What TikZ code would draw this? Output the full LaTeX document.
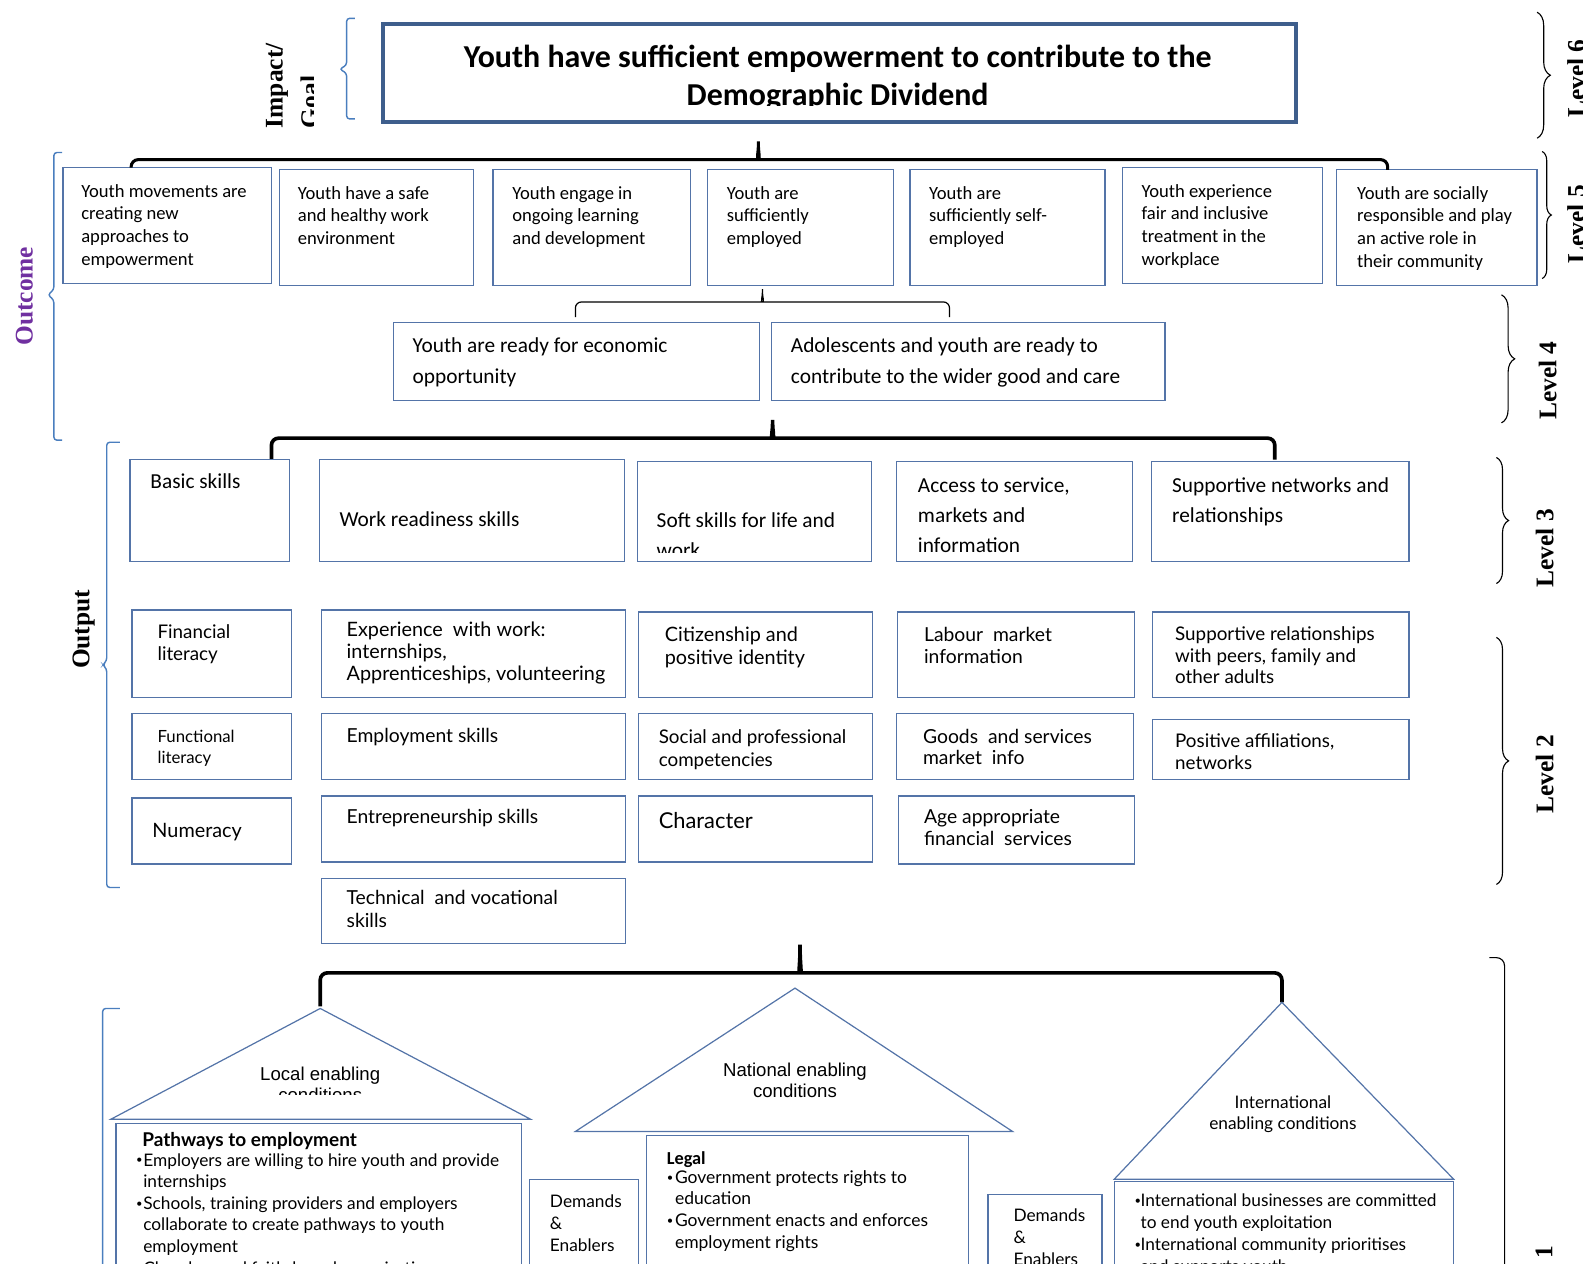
\documentclass[tikz,border=0pt]{standalone}
\usepackage{fontspec}
\setmainfont{Carlito}
\newfontfamily\gill{Lato}
\newfontfamily\arialf{Liberation Sans}
\newfontfamily\timesf{Liberation Serif}
\usetikzlibrary{decorations.pathreplacing}
\definecolor{boxblue}{RGB}{84,116,168}
\definecolor{impblue}{RGB}{62,94,140}
\definecolor{brblue}{RGB}{74,126,190}
\definecolor{outpurple}{RGB}{112,48,160}
\newcommand{\tl}[1]{\begin{tabular}[t]{@{}l@{}}#1\end{tabular}}
\newcommand{\tc}[1]{\begin{tabular}[t]{@{}c@{}}#1\end{tabular}}
\newcommand{\bxn}[5]{\node[bx, minimum width={(#4)-(#2)}, minimum height={(#5)-(#3)}] (#1) at (#2,#3) {};}
\newcommand{\fs}[2]{\fontsize{#1}{#2}\selectfont}
\newcommand{\bul}[1]{\makebox[#1][l]{\raisebox{0.12em}{\fontsize{11}{11}\selectfont\textbullet}}}
\begin{document}
\begin{tikzpicture}[x=1pt,y=-1pt,
  bx/.style={draw=boxblue, line width=1.3pt, anchor=north west, inner sep=0pt, outer sep=0pt},
  tx/.style={anchor=base west, inner sep=0pt, outer sep=0pt},
  txc/.style={anchor=base, inner sep=0pt, outer sep=0pt},
  f5/.style={font=\fs{18.3}{22.3}},
  f4/.style={font=\fs{21}{30}},
  f3/.style={font=\fs{21}{29.5}},
  lvl/.style={rotate=90, anchor=base west, inner sep=0pt, outer sep=0pt, font=\timesf\bfseries\fs{25}{30}},
  thk/.style={draw=black, line width=3.6pt, rounded corners=7pt},
  thn/.style={draw=black, line width=1.2pt, rounded corners=6pt},
  bbr/.style={draw=brblue, line width=1.4pt, rounded corners=3pt},
  kbr/.style={draw=black, line width=1.1pt, decorate, decoration={brace, amplitude=#1}},
  roof/.style={draw=boxblue, line width=1.2pt},
]
\path[use as bounding box] (0,0) rectangle (1568,1243);
\clip (0,0) rectangle (1568,1243);

% ---------- Impact ----------
\node[draw=impblue, line width=4pt, anchor=north west, inner sep=0pt, minimum width=898pt, minimum height=96pt] (imp) at (375,22) {};
\begin{scope}
\clip (380,26) rectangle (1268,104);
\node[txc, font=\bfseries\fs{31.4}{37.5}] (impt) at (824,66) {\tc{Youth have sufficient empowerment to contribute to the\\Demographic Dividend}};
\end{scope}
\begin{scope}
\clip (240,20) rectangle (308,140);
\node[lvl] (impl1) at (278,126) {Impact/};
\node[lvl] (impl2) at (313,126) {Goal};
\end{scope}
\draw[bbr] (349,18) -- (341,18) -- (341,64) -- (334,68) -- (341,72) -- (341,117) -- (349,117);

% ---------- Level 5 ----------
\bxn{o1}{62}{165}{267}{279}
\node[tx,f5] (o1t) at (80,194) {\tl{Youth movements are\\creating new\\approaches to\\empowerment}};
\bxn{o2}{275}{167}{466}{281}
\node[tx,f5] (o2t) at (293,196) {\tl{Youth have a safe\\and healthy work\\environment}};
\bxn{o3}{485}{167}{679}{281}
\node[tx,f5] (o3t) at (504,196) {\tl{Youth engage in\\ongoing learning\\and development}};
\bxn{o4}{696}{167}{879}{281}
\node[tx,f5] (o4t) at (715,196) {\tl{Youth are\\sufficiently\\employed}};
\bxn{o5}{895}{167}{1087}{281}
\node[tx,f5] (o5t) at (914,196) {\tl{Youth are\\sufficiently self-\\employed}};
\bxn{o6}{1104}{165}{1301}{279}
\node[tx,f5] (o6t) at (1123,194) {\tl{Youth experience\\fair and inclusive\\treatment in the\\workplace}};
\bxn{o7}{1315}{167}{1512}{281}
\node[tx,f5] (o7t) at (1335,196) {\tl{Youth are socially\\responsible and play\\an active role in\\their community}};

\coordinate (c5l) at (129,165);
\coordinate (c5t) at (746,135);
\coordinate (c5r) at (1365,167);
\draw[thk, line width=3pt] (c5l) -- (129,157) -- (739,157) .. controls (744,157) and (746,150) .. (c5t) .. controls (746,150) and (748,157) .. (753,157) -- (1365,157) -- (c5r);

% ---------- Level 4 ----------
\bxn{r1}{387}{317}{747}{394}
\node[tx,f4] (r1t) at (406,347) {\tl{Youth are ready for economic\\opportunity}};
\bxn{r2}{759}{317}{1146}{394}
\node[tx,f4] (r2t) at (778,347) {\tl{Adolescents and youth are ready to\\contribute to the wider good and care}};
\coordinate (c4l) at (566,312);
\coordinate (c4t) at (750,281);
\coordinate (c4r) at (934,312);
\draw[thn] (c4l) -- (566,297) -- (744,297) .. controls (748,297) and (750,292) .. (c4t) .. controls (750,292) and (752,297) .. (756,297) -- (934,297) -- (c4r);

% ---------- Outcome label ----------
\node[lvl, text=outpurple] (outc) at (32,340) {Outcome};
\draw[bbr] (61,150) -- (53,150) -- (53,285) -- (47,290) -- (53,295) -- (53,433) -- (61,433);

% ---------- Level 3 ----------
\coordinate (c3l) at (267,452);
\coordinate (c3t) at (760,409);
\coordinate (c3r) at (1254,452);
\draw[thk] (c3l) -- (267,431) -- (753,431) .. controls (758,431) and (760,424) .. (c3t) .. controls (760,424) and (762,431) .. (767,431) -- (1254,431) -- (c3r);
\bxn{s1}{128}{452}{285}{552}
\node[tx,f3] (s1t) at (148,481) {Basic skills};
\bxn{s2}{314}{452}{614}{552}
\node[tx,f3] (s2t) at (334,518) {Work readiness skills};
\bxn{s3}{627}{454}{857}{552}
\begin{scope}
\clip (629,456) rectangle (855,543);
\node[tx,f3] (s3t) at (646,519) {\tl{Soft skills for life and\\work}};
\end{scope}
\bxn{s4}{882}{454}{1114}{552}
\node[tx,f3] (s4t) at (903,484) {\tl{Access to service,\\markets and\\information}};
\bxn{s5}{1133}{454}{1386}{552}
\node[tx,f3] (s5t) at (1153,484) {\tl{Supportive networks and\\relationships}};

% ---------- Output label ----------
\node[lvl] (outp) at (88,658) {Output};
\draw[bbr] (118,435) -- (105,435) -- (105,650) -- (101,654) -- (105,658) -- (105,873) -- (118,873);

% ---------- Level 2 ----------
\bxn{p1a}{130}{600}{287}{686}
\node[tx, font=\gill\fs{18.5}{21.5}] (p1at) at (155,628) {\tl{Financial\\literacy}};
\bxn{p1b}{130}{702}{287}{767}
\node[tx, font=\gill\fs{16.5}{21.5}] (p1bt) at (155,730) {\tl{Functional\\literacy}};
\bxn{p1c}{130}{785}{287}{850}
\node[tx, font=\gill\fs{19.5}{22}] (p1ct) at (150,824) {Numeracy};
\bxn{p2a}{316}{600}{615}{686}
\node[tx, font=\gill\fs{19.5}{21.7}] (p2at) at (341,626) {\tl{Experience~ with work:\\internships,\\Apprenticeships, volunteering}};
\bxn{p2b}{316}{702}{615}{767}
\node[tx, font=\gill\fs{19}{22}] (p2bt) at (341,730) {Employment skills};
\bxn{p2c}{316}{783}{615}{848}
\node[tx, font=\gill\fs{19}{22}] (p2ct) at (341,810) {Entrepreneurship skills};
\bxn{p2d}{316}{864}{615}{928}
\node[tx, font=\gill\fs{19}{22}] (p2dt) at (341,890) {\tl{Technical~ and vocational\\skills}};
\bxn{p3a}{628}{602}{858}{686}
\node[tx, font=\gill\fs{19.5}{23}] (p3at) at (654,631) {\tl{Citizenship and\\positive identity}};
\bxn{p3b}{628}{702}{858}{767}
\node[tx, font=\gill\fs{18.5}{23}] (p3bt) at (648,731) {\tl{Social and professional\\competencies}};
\bxn{p3c}{628}{783}{858}{848}
\node[tx, font=\gill\fs{21.5}{23}] (p3ct) at (648,815) {Character};
\bxn{p4a}{883}{602}{1116}{686}
\node[tx, font=\gill\fs{19}{21.5}] (p4at) at (909,631) {\tl{Labour~ market\\information}};
\bxn{p4b}{882}{702}{1115}{767}
\node[tx, font=\gill\fs{19}{21.5}] (p4bt) at (908,731) {\tl{Goods~ and services\\market~ info}};
\bxn{p4c}{884}{783}{1116}{850}
\node[tx, font=\gill\fs{19}{22}] (p4ct) at (909,810) {\tl{Age appropriate\\financial~ services}};
\bxn{p5a}{1134}{602}{1386}{686}
\node[tx, font=\gill\fs{18.5}{21.3}] (p5at) at (1156,630) {\tl{Supportive relationships\\with peers, family and\\other adults}};
\bxn{p5b}{1134}{708}{1386}{767}
\node[tx, font=\gill\fs{18.5}{22}] (p5bt) at (1156,735) {\tl{Positive affiliations,\\networks}};

% ---------- Level 1 ----------
\coordinate (c1l) at (315,990);
\coordinate (c1t) at (787,925);
\coordinate (c1r) at (1261,986);
\draw[thk] (c1l) -- (315,957) -- (780,957) .. controls (785,957) and (787,950) .. (c1t) .. controls (787,950) and (789,957) .. (794,957) -- (1261,957) -- (c1r);

\coordinate (rlA) at (315,992);
\coordinate (rlB) at (109,1101);
\coordinate (rlC) at (522,1101);
\draw[roof] (rlA) -- (rlB) -- (rlC) -- cycle;
\begin{scope}
\clip (200,1000) rectangle (430,1077);
\node[txc, font=\arialf\fs{18.3}{21}] (rlt) at (315,1063) {\tc{Local enabling\\conditions}};
\end{scope}
\bxn{pw}{114}{1105}{513}{1300}
\node[tx, font=\gill\bfseries\fs{18.7}{21}] (pwh) at (140,1128) {Pathways to employment};
\node[tx, font=\gill\fs{17}{21.3}] (pwt) at (134,1147) {\tl{\bul{7pt}Employers are willing to hire youth and provide\\\hspace*{7pt}internships\\\bul{7pt}Schools, training providers and employers\\\hspace*{7pt}collaborate to create pathways to youth\\\hspace*{7pt}employment\\\bul{7pt}Churches and faith-based organisations}};

\bxn{de1}{521}{1160}{628}{1300}
\node[tx, font=\gill\fs{17}{21.3}] (de1t) at (541,1188) {\tl{Demands\\\&\\Enablers}};

\coordinate (rnA) at (782,972);
\coordinate (rnB) at (566,1113);
\coordinate (rnC) at (996,1113);
\draw[roof] (rnA) -- (rnB) -- (rnC) -- cycle;
\node[txc, font=\arialf\fs{18.3}{21}] (rnt) at (782,1059) {\tc{National enabling\\conditions}};
\bxn{lg}{636}{1117}{953}{1300}
\node[tx, font=\bfseries\fs{18}{21}] (lgh) at (656,1145) {Legal};
\node[tx, font=\gill\fs{17.2}{21.3}] (lgt) at (656,1164) {\tl{\bul{8pt}Government protects rights to\\\hspace*{8pt}education\\\bul{8pt}Government enacts and enforces\\\hspace*{8pt}employment rights}};

\bxn{de2}{972}{1175}{1084}{1300}
\node[tx, font=\gill\fs{17}{21.3}] (de2t) at (997,1202) {\tl{Demands\\\&\\Enablers}};

\coordinate (riA) at (1261,986);
\coordinate (riB) at (1096,1160);
\coordinate (riC) at (1430,1160);
\draw[roof] (riA) -- (riB) -- (riC) -- cycle;
\node[txc, font=\gill\fs{17}{21}] (rit) at (1262,1090) {\tc{International\\enabling conditions}};
\bxn{in}{1096}{1162}{1430}{1300}
\node[tx, font=\gill\fs{17}{21.5}] (int) at (1116,1187) {\tl{\bul{6pt}International businesses are committed\\\hspace*{6pt}to end youth exploitation\\\bul{6pt}International community prioritises\\\hspace*{6pt}and supports youth}};

\draw[bbr] (118,992) -- (101,992) -- (101,1300);

% ---------- Right level braces ----------
\draw[kbr=13pt] (1512,12) -- (1512,136);
\draw[kbr=9pt] (1517,149) -- (1517,274);
\draw[kbr=13pt] (1477,290) -- (1477,416);
\draw[kbr=12pt] (1472,450) -- (1472,574);
\draw[kbr=12pt] (1472,627) -- (1472,870);
\draw[draw=black, line width=1.1pt, rounded corners=8pt] (1465,942) -- (1480,942) -- (1480,1300);

\begin{scope}
\clip (1530,0) rectangle (1557,300);
\node[lvl] (lv6) at (1559,116) {Level 6};
\node[lvl] (lv5) at (1559,259) {Level 5};
\end{scope}
\node[lvl] (lv4) at (1531,413) {Level 4};
\node[lvl] (lv3) at (1528,578) {Level 3};
\node[lvl] (lv2) at (1528,800) {Level 2};
\node[lvl, anchor=base east] (lv1) at (1527,1225) {Level 1};
\end{tikzpicture}
\end{document}
